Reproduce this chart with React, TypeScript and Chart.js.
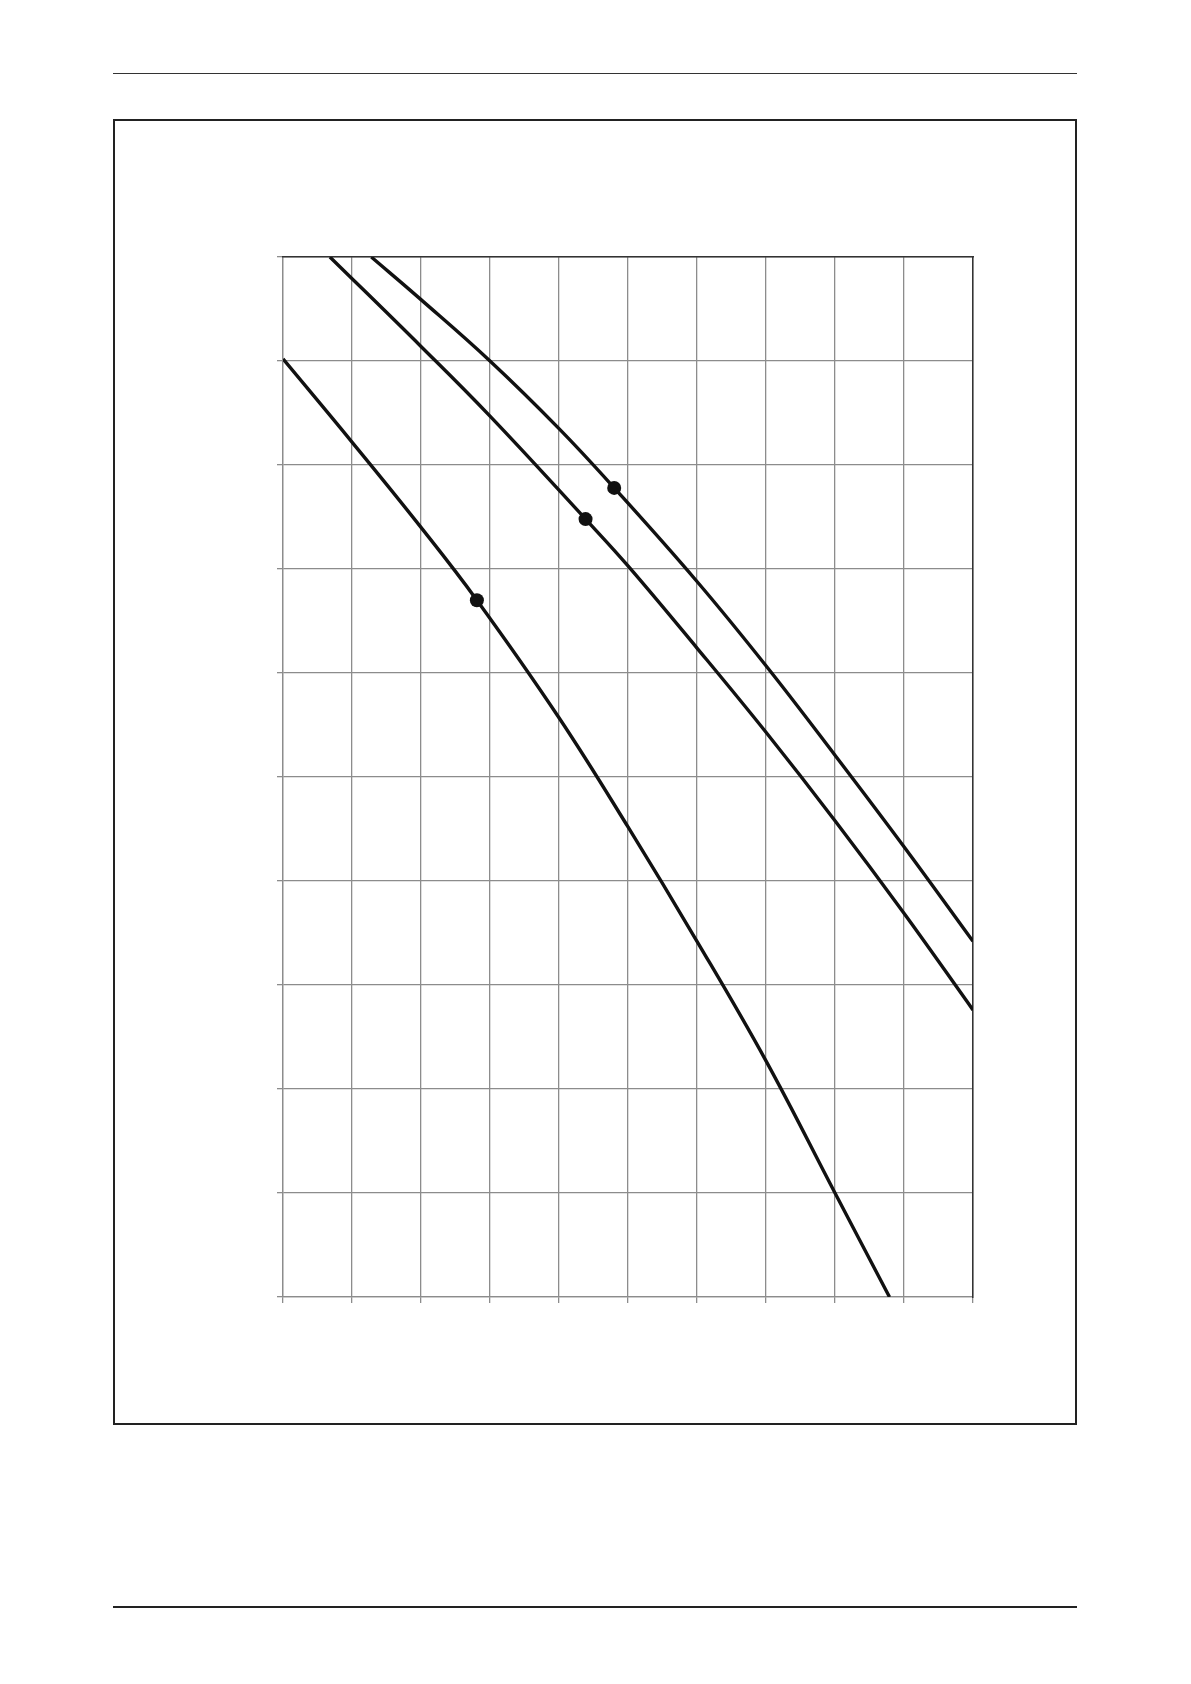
import { useEffect, useRef } from "react"
import { Chart, registerables } from "chart.js"

Chart.register(...registerables)

// curves, read in grid units (10 x 10 cells, no labels in the original)
const lowX = [0, 1, 2, 2.81, 4, 5, 6, 7, 8, 8.79]
const lowY = [9.02, 8.22, 7.4, 6.7, 5.57, 4.52, 3.42, 2.27, 1.0, 0]

const midX = [0.68, 2, 3, 4.385, 5, 6, 7, 8, 9, 10]
const midY = [10, 9.14, 8.47, 7.48, 7.03, 6.24, 5.43, 4.58, 3.69, 2.76]

const highX = [1.28, 2, 3, 4, 4.8, 6, 7, 8, 9, 10]
const highY = [10, 9.59, 9.0, 8.35, 7.78, 6.88, 6.07, 5.21, 4.33, 3.42]

// marked points on each curve
const dotX = [2.81, 4.385, 4.8]
const dotY = [6.7, 7.48, 7.78]

const axisMin = 0
const axisMax = 10
const step = 1

const toPoints = (xs: number[], ys: number[]) => xs.map((x, i) => ({ x, y: ys[i] }))

const curve = (xs: number[], ys: number[]) => ({
  type: "line" as const,
  data: toPoints(xs, ys),
  borderColor: "#111",
  borderWidth: 3.4,
  pointRadius: 0,
  fill: false,
  tension: 0.4,
})

function CurveChart() {
  const canvasRef = useRef<HTMLCanvasElement>(null)
  const chartRef = useRef<Chart | null>(null)

  useEffect(() => {
    if (!canvasRef.current) return
    if (chartRef.current) chartRef.current.destroy()

    const gridColor = "#8c8c8c"

    chartRef.current = new Chart(canvasRef.current, {
      type: "scatter",
      data: {
        datasets: [
          curve(lowX, lowY),
          curve(midX, midY),
          curve(highX, highY),
          {
            type: "scatter",
            data: toPoints(dotX, dotY),
            backgroundColor: "#111",
            borderColor: "#111",
            pointRadius: 7,
            pointBorderWidth: 0,
          },
        ],
      },
      options: {
        animation: false,
        responsive: true,
        maintainAspectRatio: false,
        layout: { padding: { left: 7, top: 6, right: 6, bottom: 4 } },
        plugins: { legend: { display: false }, tooltip: { enabled: false } },
        scales: {
          x: {
            type: "linear",
            min: axisMin,
            max: axisMax,
            ticks: { display: false, stepSize: step },
            grid: { color: gridColor, lineWidth: 1.3, tickLength: 6, tickColor: gridColor },
            border: { color: gridColor, width: 1.3 },
          },
          y: {
            type: "linear",
            min: axisMin,
            max: axisMax,
            ticks: { display: false, stepSize: step },
            grid: { color: gridColor, lineWidth: 1.3, tickLength: 6, tickColor: gridColor },
            border: { color: gridColor, width: 1.3 },
          },
          x2: {
            type: "linear",
            position: "top",
            min: axisMin,
            max: axisMax,
            ticks: { display: false },
            grid: { display: false, drawTicks: false },
            border: { color: "#333", width: 1.5 },
          },
          y2: {
            type: "linear",
            position: "right",
            min: axisMin,
            max: axisMax,
            ticks: { display: false },
            grid: { display: false, drawTicks: false },
            border: { color: "#333", width: 1.5 },
          },
        },
      },
    })

    return () => {
      if (chartRef.current) {
        chartRef.current.destroy()
        chartRef.current = null
      }
    }
  }, [])

  return (
    <div style={{ position: "absolute", left: 270, top: 250, width: 710, height: 1057 }}>
      <canvas ref={canvasRef} />
    </div>
  )
}

export default function App() {
  return (
    <div style={{ position: "absolute", left: 0, top: 0, width: 1191, height: 1684, background: "#fff" }}>
      {/* header rule */}
      <div style={{ position: "absolute", left: 113, top: 73, width: 964, height: 1, background: "#333" }} />
      {/* frame */}
      <div
        style={{
          position: "absolute",
          left: 113,
          top: 119,
          width: 964,
          height: 1306,
          border: "2px solid #222",
          boxSizing: "border-box",
        }}
      />
      <CurveChart />
      {/* footer rule */}
      <div style={{ position: "absolute", left: 113, top: 1606, width: 964, height: 2, background: "#222" }} />
    </div>
  )
}
